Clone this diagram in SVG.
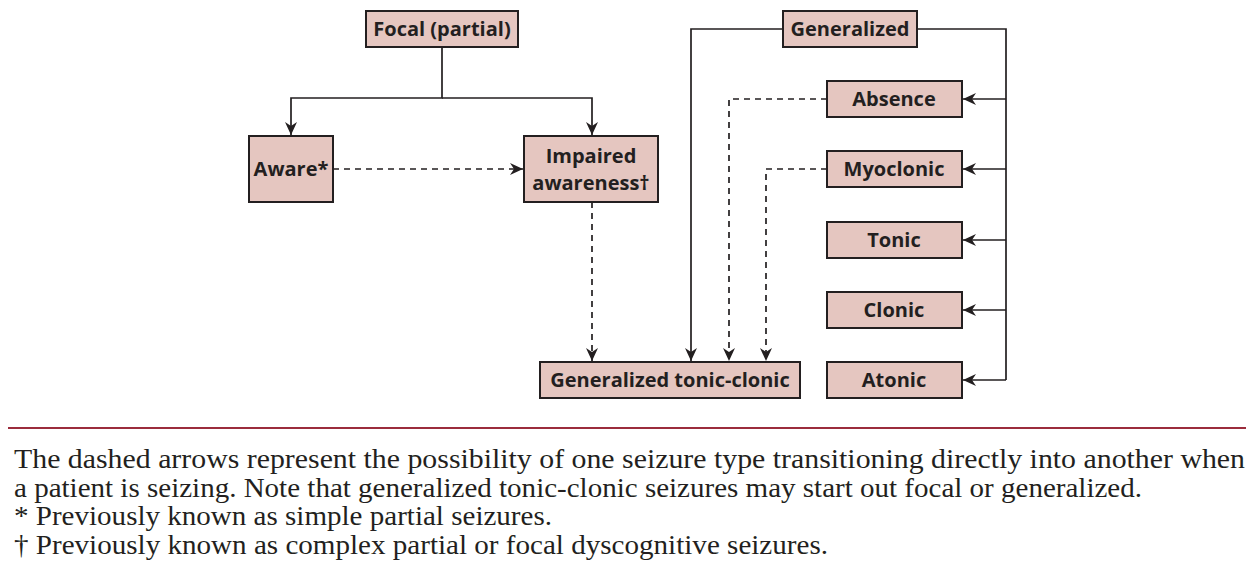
<svg xmlns="http://www.w3.org/2000/svg" width="1259" height="574" viewBox="0 0 1259 574">
<style>
.box{fill:#e5c6c0;stroke:#231f20;stroke-width:2}
.lbl{font-family:"Open Sans","Liberation Sans",sans-serif;font-weight:700;font-size:20px;fill:#231f20;text-anchor:middle}
.ln{fill:none;stroke:#231f20;stroke-width:1.7}
.dash{stroke-dasharray:6,5}
.cap{font-family:"Liberation Serif","DejaVu Serif",serif;font-size:27px;fill:#231f20}
</style>
<defs>
<marker id="ah" markerUnits="userSpaceOnUse" markerWidth="14" markerHeight="12" refX="13" refY="6" orient="auto">
<path d="M0,0 L13,6 L0,12 L4,6 z" fill="#231f20"/>
</marker>
</defs>
<rect width="1259" height="574" fill="#ffffff"/>
<g id="connectors">
<path class="ln" d="M442,47 V98 H291 V135" marker-end="url(#ah)"/>
<path class="ln" d="M442,98 H592 V135" marker-end="url(#ah)"/>
<path class="ln dash" d="M333,169 H523" marker-end="url(#ah)"/>
<path class="ln dash" d="M592,202 V361" marker-end="url(#ah)"/>
<path class="ln" d="M783,29 H691 V361" marker-end="url(#ah)"/>
<path class="ln dash" d="M827,99 H729 V361" marker-end="url(#ah)"/>
<path class="ln dash" d="M827,169 H766 V361" marker-end="url(#ah)"/>
<path class="ln" d="M917,29 H1006 V380"/>
<path class="ln" d="M1006,99 H963" marker-end="url(#ah)"/>
<path class="ln" d="M1006,169 H963" marker-end="url(#ah)"/>
<path class="ln" d="M1006,240 H963" marker-end="url(#ah)"/>
<path class="ln" d="M1006,310 H963" marker-end="url(#ah)"/>
<path class="ln" d="M1006,380 H963" marker-end="url(#ah)"/>
</g>
<g id="focal"><rect class="box" x="366" y="11" width="152" height="36"/><text class="lbl" x="442" y="36">Focal (partial)</text></g>
<g id="aware"><rect class="box" x="249" y="136" width="84" height="66"/><text class="lbl" x="291" y="176">Aware*</text></g>
<g id="impaired"><rect class="box" x="524" y="136" width="134" height="66"/><text class="lbl" x="591" y="163">Impaired</text><text class="lbl" x="591" y="190">awareness†</text></g>
<g id="generalized"><rect class="box" x="783" y="11" width="134" height="36"/><text class="lbl" x="850" y="36">Generalized</text></g>
<g id="absence"><rect class="box" x="827" y="81" width="135" height="36"/><text class="lbl" x="894" y="106">Absence</text></g>
<g id="myoclonic"><rect class="box" x="827" y="151" width="135" height="36"/><text class="lbl" x="894" y="176">Myoclonic</text></g>
<g id="tonic"><rect class="box" x="827" y="222" width="135" height="36"/><text class="lbl" x="894" y="247">Tonic</text></g>
<g id="clonic"><rect class="box" x="827" y="292" width="135" height="36"/><text class="lbl" x="894" y="317">Clonic</text></g>
<g id="atonic"><rect class="box" x="827" y="362" width="135" height="36"/><text class="lbl" x="894" y="387">Atonic</text></g>
<g id="gtc"><rect class="box" x="540" y="362" width="260" height="36"/><text class="lbl" x="670" y="387">Generalized tonic-clonic</text></g>
<line x1="8" y1="428" x2="1246" y2="428" stroke="#9b2c3c" stroke-width="2.2"/>
<g id="caption">
<text class="cap" x="14" y="468" textLength="1231" lengthAdjust="spacingAndGlyphs">The dashed arrows represent the possibility of one seizure type transitioning directly into another when</text>
<text class="cap" x="14" y="497" textLength="1128" lengthAdjust="spacingAndGlyphs">a patient is seizing. Note that generalized tonic-clonic seizures may start out focal or generalized.</text>
<text class="cap" x="14" y="525" textLength="538" lengthAdjust="spacingAndGlyphs">* Previously known as simple partial seizures.</text>
<text class="cap" x="14" y="554" textLength="814" lengthAdjust="spacingAndGlyphs">† Previously known as complex partial or focal dyscognitive seizures.</text>
</g>
</svg>
